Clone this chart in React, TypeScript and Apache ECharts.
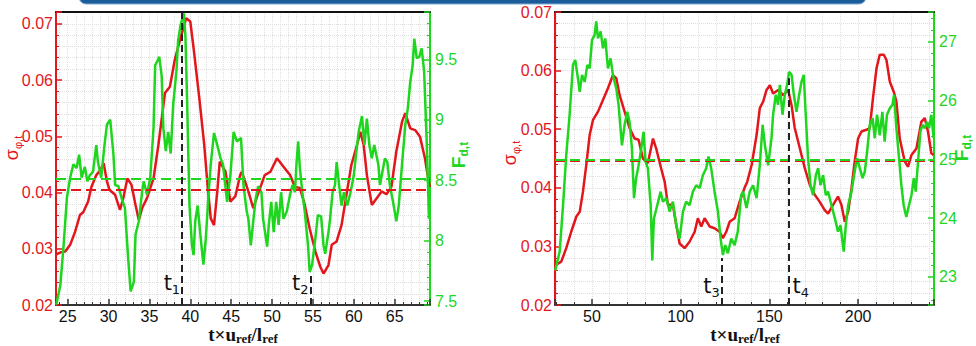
import React, { useEffect, useRef } from "react";
import * as echarts from "echarts";

// ---- left panel: t in [23.6, 69.3] ----
const leftSigmaT = [23.6, 24.2, 24.7, 25.3, 25.9, 26.5, 26.9, 27.5, 27.9, 28.5, 29.0, 29.4, 29.8, 30.1, 30.8, 31.4, 31.8, 32.3, 32.8, 33.3, 33.7, 34.1, 34.7, 35.5, 36.1, 36.9, 37.5, 38.1, 38.9, 39.5, 40.0, 40.4, 41.1, 41.7, 42.1, 42.5, 42.9, 43.3, 43.6, 44.3, 44.9, 45.5, 46.1, 46.3, 47.1, 47.7, 48.1, 49.1, 49.8, 50.6, 51.4, 52.2, 52.8, 53.4, 54.0, 54.6, 55.3, 55.9, 56.3, 56.9, 57.3, 57.9, 58.5, 59.1, 59.7, 60.4, 60.8, 61.2, 61.6, 62.2, 62.8, 63.4, 64.0, 64.6, 65.2, 65.9, 66.3, 66.9, 67.5, 68.1, 68.7, 69.1, 69.3];
const leftSigma = [0.0290, 0.0294, 0.0295, 0.0307, 0.0330, 0.0360, 0.0365, 0.0384, 0.0410, 0.0431, 0.0440, 0.0452, 0.0420, 0.0405, 0.0396, 0.0369, 0.0390, 0.0425, 0.0414, 0.0378, 0.0351, 0.0372, 0.0390, 0.0425, 0.0485, 0.0577, 0.0588, 0.0636, 0.0680, 0.0710, 0.0704, 0.0657, 0.0568, 0.0485, 0.0414, 0.0354, 0.0342, 0.0402, 0.0455, 0.0437, 0.0384, 0.0393, 0.0431, 0.0437, 0.0402, 0.0372, 0.0390, 0.0431, 0.0437, 0.0461, 0.0446, 0.0431, 0.0410, 0.0408, 0.0378, 0.0336, 0.0295, 0.0268, 0.0256, 0.0271, 0.0307, 0.0313, 0.0342, 0.0396, 0.0449, 0.0485, 0.0508, 0.0485, 0.0431, 0.0378, 0.0390, 0.0402, 0.0397, 0.0410, 0.0473, 0.0526, 0.0541, 0.0514, 0.0511, 0.0499, 0.0461, 0.0425, 0.0410];

const leftForceT = [23.6, 24.1, 24.5, 24.9, 25.3, 25.7, 26.1, 26.4, 26.7, 27.1, 27.4, 27.7, 28.1, 28.5, 28.7, 29.1, 29.5, 29.8, 30.2, 30.6, 30.8, 31.2, 31.6, 32.0, 32.4, 32.7, 33.1, 33.3, 33.7, 34.1, 34.3, 34.7, 35.1, 35.5, 35.7, 36.0, 36.2, 36.5, 36.7, 37.0, 37.3, 37.6, 37.9, 38.3, 38.5, 38.8, 39.2, 39.4, 39.6, 39.9, 40.2, 40.4, 40.6, 40.9, 41.2, 41.6, 41.9, 42.2, 42.5, 42.9, 43.3, 43.7, 44.0, 44.5, 44.9, 45.3, 45.7, 46.2, 46.5, 46.9, 47.1, 47.4, 47.7, 48.0, 48.3, 48.7, 48.9, 49.4, 49.6, 49.9, 50.2, 50.5, 50.8, 51.1, 51.4, 51.8, 52.2, 52.5, 52.8, 53.0, 53.2, 53.4, 53.7, 54.0, 54.4, 54.6, 54.9, 55.3, 55.6, 56.0, 56.3, 56.5, 56.9, 57.1, 57.4, 57.7, 57.9, 58.2, 58.5, 58.8, 59.2, 59.6, 60.0, 60.4, 60.6, 61.0, 61.3, 61.6, 61.9, 62.2, 62.5, 63.0, 63.2, 63.5, 63.8, 64.1, 64.4, 64.8, 65.2, 65.5, 65.9, 66.3, 66.6, 66.9, 67.2, 67.4, 67.7, 68.0, 68.3, 68.6, 68.9, 69.2];
const leftForce = [7.47, 7.63, 7.96, 8.35, 8.52, 8.63, 8.60, 8.71, 8.52, 8.61, 8.49, 8.54, 8.57, 8.79, 8.65, 8.52, 8.79, 8.96, 9.00, 8.71, 8.46, 8.45, 8.35, 8.27, 7.85, 7.58, 7.66, 8.05, 8.16, 8.40, 8.49, 8.38, 8.52, 8.93, 9.45, 9.49, 9.52, 9.36, 8.93, 8.74, 8.90, 8.72, 9.12, 9.40, 9.65, 9.78, 9.88, 9.70, 9.18, 8.29, 7.96, 7.88, 8.16, 8.29, 8.07, 7.80, 8.02, 8.35, 8.63, 8.89, 8.79, 8.68, 8.63, 8.32, 8.54, 8.90, 8.82, 8.85, 8.46, 8.24, 8.18, 7.96, 8.16, 8.35, 8.45, 8.40, 8.18, 7.95, 8.13, 8.32, 8.07, 8.32, 8.13, 8.40, 8.18, 8.24, 8.38, 8.46, 8.40, 8.65, 8.82, 8.60, 8.40, 8.24, 7.96, 7.74, 7.80, 8.02, 8.21, 8.20, 7.96, 7.89, 8.07, 8.18, 8.40, 8.46, 8.65, 8.46, 8.29, 8.40, 8.29, 8.40, 8.54, 8.79, 8.90, 9.03, 8.79, 9.01, 8.79, 8.68, 8.79, 8.63, 8.46, 8.57, 8.68, 8.65, 8.46, 8.32, 8.16, 8.29, 8.63, 8.96, 9.09, 9.31, 9.45, 9.67, 9.51, 9.52, 9.59, 9.40, 8.85, 8.18];

// ---- right panel: t in [29.2, 242.8] ----
const rightSigmaT = [29.3, 32.7, 35.5, 38.3, 41.2, 43.1, 44.9, 46.8, 48.7, 50.6, 53.4, 56.2, 59.0, 61.8, 63.7, 65.6, 68.4, 71.2, 74.0, 76.3, 78.7, 81.5, 84.4, 86.2, 89.0, 91.0, 92.8, 95.6, 97.5, 99.4, 102.2, 105.0, 107.9, 109.7, 111.6, 113.5, 116.3, 119.1, 121.9, 123.8, 125.7, 127.6, 130.4, 133.2, 136.0, 137.5, 140.0, 142.8, 144.6, 146.5, 148.4, 150.3, 152.1, 155.0, 157.8, 160.6, 162.5, 164.3, 167.2, 170.0, 172.8, 175.6, 178.4, 181.2, 183.1, 185.9, 188.7, 190.6, 192.5, 194.4, 196.3, 198.1, 200.0, 201.9, 204.7, 206.6, 208.4, 210.4, 212.2, 214.5, 216.0, 217.9, 220.1, 221.6, 223.5, 226.3, 228.2, 230.1, 232.9, 235.7, 237.6, 239.4, 241.3, 242.6];
const rightSigma = [0.0268, 0.0274, 0.0297, 0.0325, 0.0351, 0.0359, 0.0393, 0.0439, 0.0490, 0.0516, 0.0530, 0.0550, 0.0570, 0.0592, 0.0587, 0.0558, 0.0530, 0.0502, 0.0484, 0.0482, 0.0450, 0.0442, 0.0484, 0.0467, 0.0433, 0.0410, 0.0371, 0.0371, 0.0337, 0.0305, 0.0297, 0.0308, 0.0325, 0.0348, 0.0334, 0.0348, 0.0334, 0.0331, 0.0325, 0.0314, 0.0325, 0.0342, 0.0348, 0.0376, 0.0400, 0.0410, 0.0439, 0.0490, 0.0536, 0.0547, 0.0567, 0.0575, 0.0561, 0.0567, 0.0558, 0.0567, 0.0541, 0.0502, 0.0467, 0.0433, 0.0405, 0.0388, 0.0376, 0.0362, 0.0356, 0.0371, 0.0385, 0.0371, 0.0342, 0.0359, 0.0399, 0.0445, 0.0484, 0.0496, 0.0499, 0.0502, 0.0553, 0.0604, 0.0627, 0.0627, 0.0618, 0.0581, 0.0564, 0.0547, 0.0484, 0.0445, 0.0436, 0.0456, 0.0467, 0.0513, 0.0519, 0.0496, 0.0459, 0.0456];

const rightForceT = [29.3, 31.8, 33.7, 35.5, 37.4, 39.3, 40.6, 42.1, 43.1, 44.4, 45.9, 47.4, 48.7, 50.0, 51.5, 52.4, 53.4, 54.9, 56.2, 57.5, 59.0, 60.5, 61.8, 63.7, 65.0, 66.9, 68.4, 69.9, 71.2, 72.5, 73.7, 74.9, 76.3, 77.8, 79.1, 80.2, 81.5, 83.1, 84.0, 84.9, 86.8, 88.7, 90.0, 91.9, 93.8, 95.6, 97.5, 99.4, 101.3, 103.1, 105.0, 106.9, 108.8, 110.7, 112.5, 114.4, 115.7, 117.2, 119.1, 121.0, 122.5, 123.8, 125.1, 126.6, 128.5, 130.4, 132.2, 134.1, 135.2, 137.1, 138.9, 140.8, 142.8, 144.6, 146.2, 147.5, 149.3, 151.2, 152.1, 153.6, 154.9, 155.9, 157.4, 158.7, 160.0, 161.1, 162.5, 163.8, 165.3, 166.8, 168.1, 169.4, 170.5, 171.8, 173.2, 174.6, 176.2, 177.5, 178.8, 180.3, 181.8, 183.1, 185.0, 186.9, 188.7, 190.1, 191.2, 191.9, 193.1, 194.4, 196.3, 198.1, 199.4, 201.0, 202.5, 203.8, 205.1, 206.6, 208.2, 209.4, 210.7, 212.2, 213.7, 215.0, 216.3, 217.9, 219.4, 220.3, 221.6, 223.1, 224.4, 225.7, 227.2, 228.7, 230.1, 231.4, 232.5, 233.8, 235.1, 236.3, 237.6, 238.9, 240.0, 241.3, 242.6];
const rightForce = [23.11, 23.43, 24.22, 25.07, 25.76, 26.61, 26.69, 26.38, 26.15, 26.44, 26.32, 26.61, 26.55, 27.03, 27.12, 27.35, 27.06, 27.18, 26.89, 27.06, 26.55, 26.72, 26.44, 26.21, 25.93, 25.24, 25.59, 25.81, 25.64, 25.19, 24.34, 24.68, 24.90, 25.19, 25.47, 24.96, 24.85, 24.22, 23.28, 23.99, 24.22, 24.45, 24.28, 24.34, 24.11, 24.28, 23.88, 23.65, 24.11, 24.28, 24.22, 24.45, 24.56, 24.51, 24.73, 24.85, 25.05, 24.85, 24.45, 24.11, 23.65, 23.37, 23.54, 23.40, 23.65, 23.54, 23.77, 24.39, 24.45, 24.17, 24.45, 24.56, 24.34, 24.90, 25.59, 25.24, 24.90, 25.36, 25.76, 26.10, 25.93, 26.27, 25.76, 26.10, 26.27, 26.49, 26.44, 26.10, 25.81, 26.10, 26.32, 26.44, 25.76, 25.02, 24.56, 24.39, 24.73, 24.85, 24.56, 24.73, 24.39, 24.45, 24.22, 24.00, 23.77, 23.88, 23.60, 23.43, 23.88, 24.22, 24.45, 24.79, 25.02, 24.85, 24.68, 24.79, 25.13, 25.59, 25.70, 25.36, 25.76, 25.41, 25.81, 25.30, 25.76, 25.87, 25.93, 26.10, 25.53, 25.02, 24.56, 24.22, 24.02, 24.22, 24.39, 24.68, 24.45, 24.96, 25.47, 25.59, 25.53, 25.64, 25.53, 25.76, 25.36];

// time averages (dashed horizontal lines)
const meanSigma = [0.0405, 0.0446];
const meanForce = [8.51, 25.0];

// marked instants t1..t4: time, top of the dashed marker, label side
const eventNames = ["1", "2", "3", "4"];
const eventTimes = [39.0, 54.7, 123.2, 160.8];
const eventTops = [0.0721, 0.0257, 0.028, 0.0587];
const eventSides = ["left", "left", "left", "right"];

// axis ranges
const leftTimeRange = [23.57, 69.32];
const rightTimeRange = [29.16, 242.8];
const leftSigmaRange = [0.02, 0.0721];
const rightSigmaRange = [0.02, 0.07];
const leftForceRange = [7.467, 9.891];
const rightForceRange = [22.52, 27.51];

const RED = "#e3161c";
const GREEN = "#1fd61f";
const SANS = "Liberation Sans, Arial, Helvetica, sans-serif";
const SERIF = "Liberation Serif, Times New Roman, serif";
const LABEL_SANS = "DejaVu Sans, Verdana, sans-serif";

const zip = (xs: number[], ys: number[]) => xs.map((x, i) => [x, ys[i]]);

const gridDots = { show: true, lineStyle: { color: "#dedede", type: "dotted", width: 1 } };

function bottomAxis(gridIndex: number, range: number[], splitNumber: number) {
  return {
    type: "value", gridIndex, position: "bottom", min: range[0], max: range[1], splitNumber,
    axisLine: { show: true, onZero: false, lineStyle: { color: "#333", width: 2 } },
    axisTick: { show: true, inside: true, length: 6, lineStyle: { color: "#333", width: 1.5 } },
    minorTick: { show: true, splitNumber: 5, length: 3, lineStyle: { color: "#333", width: 1 } },
    axisLabel: {
      color: "#111", fontSize: 16, lineHeight: 16, fontFamily: SANS, margin: 3,
      showMinLabel: false, showMaxLabel: false,
    },
    splitLine: gridDots,
    minorSplitLine: gridDots,
  };
}

function topAxis(gridIndex: number, range: number[]) {
  return {
    type: "value", gridIndex, position: "top", min: range[0], max: range[1],
    axisLine: { show: true, onZero: false, lineStyle: { color: "#111", width: 2 } },
    axisTick: { show: false }, axisLabel: { show: false }, splitLine: { show: false },
  };
}

function sigmaAxis(gridIndex: number, range: number[], showMax: boolean) {
  return {
    type: "value", gridIndex, position: "left", min: range[0], max: range[1], splitNumber: 5,
    axisLine: { show: true, onZero: false, lineStyle: { color: RED, width: 2 } },
    axisTick: { show: true, inside: true, length: 6, lineStyle: { color: RED, width: 1.5 } },
    minorTick: { show: true, splitNumber: 5, length: 3, lineStyle: { color: RED, width: 1 } },
    axisLabel: { color: RED, fontSize: 16, fontFamily: SANS, margin: 3, showMinLabel: true, showMaxLabel: showMax },
    splitLine: gridDots,
    minorSplitLine: gridDots,
  };
}

function forceAxis(gridIndex: number, range: number[]) {
  return {
    type: "value", gridIndex, position: "right", min: range[0], max: range[1], splitNumber: 5,
    axisLine: { show: true, onZero: false, lineStyle: { color: GREEN, width: 2 } },
    axisTick: { show: true, inside: true, length: 6, lineStyle: { color: GREEN, width: 1.5 } },
    minorTick: { show: true, splitNumber: 5, length: 3, lineStyle: { color: GREEN, width: 1 } },
    axisLabel: { color: GREEN, fontSize: 16, fontFamily: SANS, margin: 5, showMinLabel: false, showMaxLabel: false },
    splitLine: { show: false },
  };
}

function curve(name: string, xs: number[], ys: number[], color: string, xi: number, yi: number, mean: number, z: number) {
  return {
    name, type: "line", xAxisIndex: xi, yAxisIndex: yi, z,
    data: zip(xs, ys), symbol: "none", showSymbol: false,
    lineStyle: { color, width: 2.5 },
    itemStyle: { color },
    markLine: {
      silent: true, symbol: "none", precision: 6, label: { show: false },
      lineStyle: { color, type: [10, 5], width: 2 },
      data: [{ yAxis: mean }],
    },
  };
}

const tLabelRich = {
  t: { fontSize: 21, fontFamily: LABEL_SANS, color: "#111", lineHeight: 22, verticalAlign: "top" },
  n: { fontSize: 13, fontFamily: LABEL_SANS, color: "#111", lineHeight: 13, padding: [10, 0, 0, 0], verticalAlign: "top" },
};

// labelY: sigma value at which the t_i labels are centred
function events(xi: number, yi: number, idx: number[], labelY: number) {
  return {
    name: "instants", type: "line", xAxisIndex: xi, yAxisIndex: yi, z: 5, data: [],
    markLine: {
      silent: true, symbol: "none", precision: 6, label: { show: false },
      lineStyle: { color: "#222", type: [7, 4], width: 2 },
      data: idx.map((i) => [{ coord: [eventTimes[i], 0.02] }, { coord: [eventTimes[i], eventTops[i]] }]),
    },
    markPoint: {
      silent: true, symbol: "circle", symbolSize: 0, precision: 6,
      data: idx.map((i) => ({
        coord: [eventTimes[i], labelY],
        label: {
          show: true, position: eventSides[i], distance: eventSides[i] === "left" ? 2 : 4,
          formatter: "{t|t}{n|" + eventNames[i] + "}", rich: tLabelRich,
        },
      })),
    },
  };
}

function sigmaName(x: number, y: number) {
  return {
    type: "text", x, y, rotation: Math.PI / 2, silent: true,
    style: {
      text: "{a|σ}{s|φ,t}", align: "center", verticalAlign: "middle",
      rich: {
        a: { fontSize: 18, fontFamily: SANS, fill: RED, lineHeight: 20, verticalAlign: "top" },
        s: { fontSize: 11, fontFamily: SANS, fill: RED, lineHeight: 12, padding: [9, 0, 0, 0], verticalAlign: "top" },
      },
    },
  };
}

function forceName(x: number, y: number) {
  return {
    type: "text", x, y, rotation: Math.PI / 2, silent: true,
    style: {
      text: "{a|F}{s|d,t}", align: "center", verticalAlign: "middle",
      rich: {
        a: { fontSize: 19, fontFamily: SANS, fontWeight: "bold", fill: GREEN, lineHeight: 20, verticalAlign: "top" },
        s: { fontSize: 12, fontFamily: SANS, fontWeight: "bold", fill: GREEN, lineHeight: 12, padding: [9, 0, 0, 0], verticalAlign: "top" },
      },
    },
  };
}

function timeName(x: number, y: number) {
  return {
    type: "text", x, y, silent: true,
    style: {
      text: "{a|t×u}{s|ref}{a|/l}{s|ref}", align: "center", verticalAlign: "middle",
      rich: {
        a: { fontSize: 19, fontFamily: SERIF, fontWeight: "bold", fill: "#111", lineHeight: 16, verticalAlign: "top" },
        s: { fontSize: 13, fontFamily: SERIF, fontWeight: "bold", fill: "#111", lineHeight: 10, padding: [7, 0, 0, 0], verticalAlign: "top" },
      },
    },
  };
}

export default function App() {
  const ref = useRef<HTMLDivElement>(null);

  useEffect(() => {
    if (!ref.current) return;
    const chart = echarts.init(ref.current, undefined, { renderer: "svg" });
    chart.setOption({
      animation: false,
      backgroundColor: "#ffffff",
      grid: [
        { left: 56, top: 12, width: 374, height: 293 },
        { left: 555, top: 12, width: 379, height: 293 },
      ],
      xAxis: [
        bottomAxis(0, leftTimeRange, 9),
        topAxis(0, leftTimeRange),
        bottomAxis(1, rightTimeRange, 4),
        topAxis(1, rightTimeRange),
      ],
      yAxis: [
        sigmaAxis(0, leftSigmaRange, false),
        forceAxis(0, leftForceRange),
        sigmaAxis(1, rightSigmaRange, true),
        forceAxis(1, rightForceRange),
      ],
      series: [
        curve("sigma-left", leftSigmaT, leftSigma, RED, 0, 0, meanSigma[0], 2),
        curve("force-left", leftForceT, leftForce, GREEN, 0, 1, meanForce[0], 3),
        events(0, 0, [0, 1], 0.0238),
        curve("sigma-right", rightSigmaT, rightSigma, RED, 2, 2, meanSigma[1], 2),
        curve("force-right", rightForceT, rightForce, GREEN, 2, 3, meanForce[1], 3),
        events(2, 2, [2, 3], 0.0231),
      ],
      graphic: [
        {
          type: "rect", silent: true,
          shape: { x: 79, y: -12, width: 787, height: 16, r: 7 },
          style: { fill: "#1b5d9a", stroke: "#7ea9d3", lineWidth: 1 },
        },
        sigmaName(13, 148),
        forceName(459, 155),
        sigmaName(511, 153),
        forceName(962, 148),
        timeName(243, 333),
        timeName(745, 333),
      ],
    });
    return () => chart.dispose();
  }, []);

  return (
    <div
      ref={ref}
      style={{ position: "absolute", left: 0, top: 0, width: 976, height: 346, background: "#fff" }}
    />
  );
}
